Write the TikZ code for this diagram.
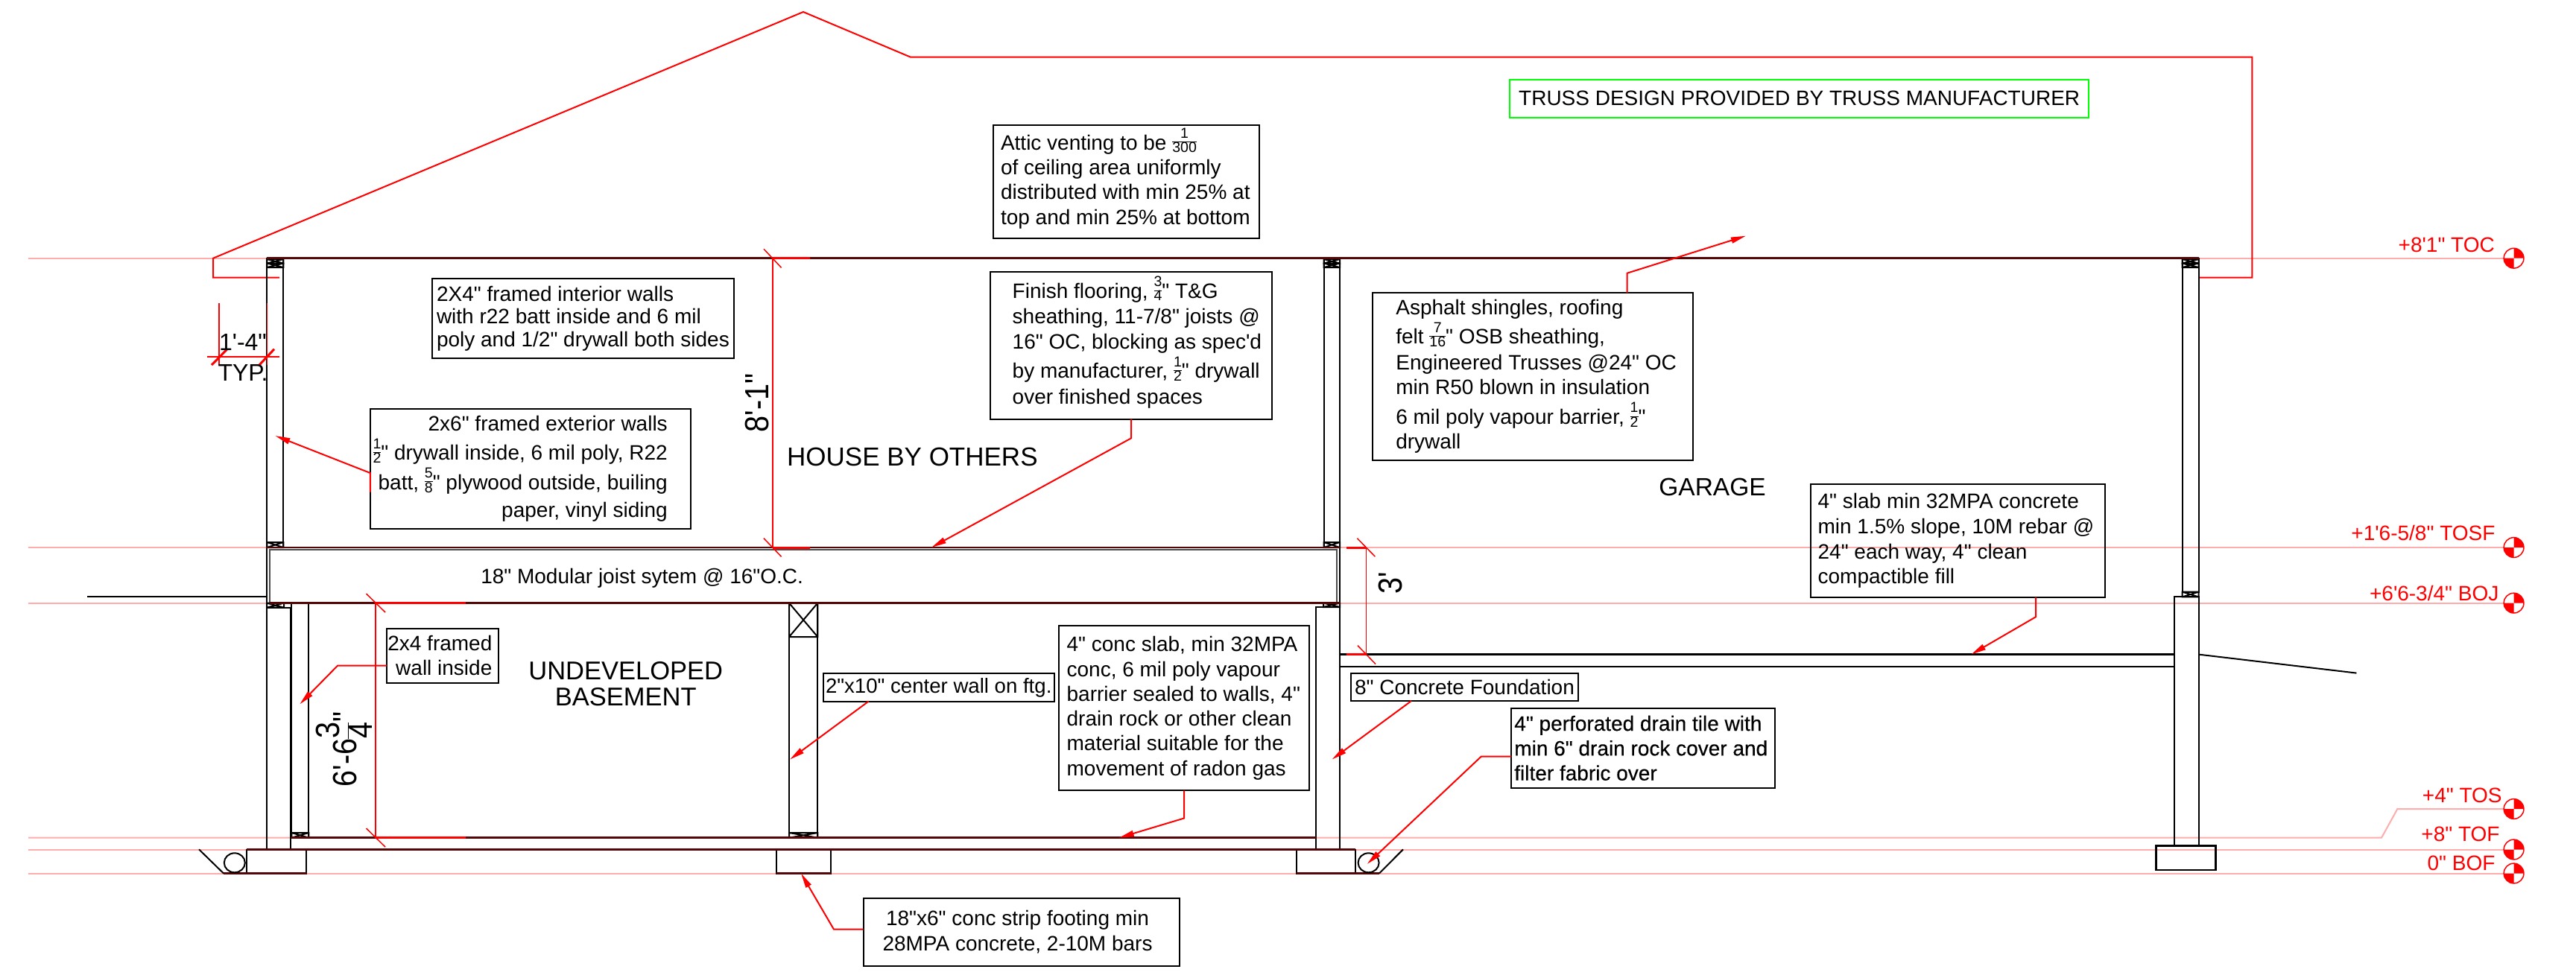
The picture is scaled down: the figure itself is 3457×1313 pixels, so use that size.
\documentclass[tikz,border=0pt]{standalone}
\usepackage{fontspec}
\usetikzlibrary{arrows.meta}
\newfontfamily\ar{Liberation Sans}
\newfontfamily\arb{Liberation Sans}[FakeBold=0.35]
\definecolor{pinkln}{HTML}{FFACAC}
\definecolor{marln}{HTML}{550606}
\definecolor{grn}{HTML}{00FF00}
\newcommand\nf{\ar\fontsize{28}{33.3}\selectfont}
\newcommand\fr[2]{\smash{\begingroup\fontsize{19.5}{16.5}\selectfont\arrayrulewidth=1pt\tabcolsep=0pt\raisebox{5pt}{\begin{tabular}[c]{@{}c@{}}#1\\\hline #2\end{tabular}}\endgroup}}
\newcommand\dfr[2]{\smash{\begingroup\fontsize{45}{39}\selectfont\arrayrulewidth=1.5pt\tabcolsep=0pt\raisebox{5pt}{\begin{tabular}[c]{@{}c@{}}#1\\\hline #2\end{tabular}}\endgroup}}
\newcommand\ls[1]{\leftskip=#1pt\relax}
\newcommand\rs[1]{\leftskip=0pt plus 1fil\relax\rightskip=#1pt\relax}
\newcommand\xblk[4]{\draw[wall] (#1,#2) rectangle (#3,#4) (#1,#2) -- (#3,#4) (#1,#4) -- (#3,#2);}
\newcommand\datum[1]{%
  \draw[red,line width=1.5pt,fill=white] (#1) circle (13.4);
  \fill[red] (#1) -- ++(13.4,0) arc (0:90:13.4 and -13.4) -- cycle;
  \fill[red] (#1) -- ++(-13.4,0) arc (180:270:13.4 and -13.4) -- cycle;}
\tikzset{
  wall/.style={draw=black,line width=2pt},
  lvl/.style={draw=pinkln,line width=2pt},
  floorln/.style={draw=marln,line width=2.6pt},
  rd/.style={draw=red,line width=2pt},
  tick/.style={draw=red,line width=1.5pt},
  ext/.style={draw=red,line width=3pt},
  lead/.style={draw=red,line width=2pt,-{Triangle[length=20pt,width=8pt,fill=red]}},
  nb/.style={draw=black,line width=2pt,inner sep=0pt,outer sep=0pt,anchor=north west,font=\nf,align=flush left},
  nbc/.style={nb,align=flush center},
  lvltxt/.style={text=red,font=\ar\fontsize{28}{30}\selectfont,inner sep=0pt,anchor=base east},
  room/.style={font=\ar\fontsize{35}{38.5}\selectfont,inner sep=0pt,anchor=base,align=center},
  dimtxt/.style={font=\ar\fontsize{45}{45}\selectfont,inner sep=0pt,anchor=base,rotate=90},
  smalltxt/.style={font=\ar\fontsize{32}{34}\selectfont,inner sep=0pt,anchor=base},
}
\begin{document}
\begin{tikzpicture}[x=1pt,y=-1pt]
\useasboundingbox (0,0) rectangle (3457,1313);
\fill[white] (0,0) rectangle (3457,1313);
% level lines
\coordinate (mTOC) at (3373.5,346.7);
\coordinate (mTOSF) at (3373.5,735);
\coordinate (mBOJ) at (3373.5,809.6);
\coordinate (mTOS) at (3373.5,1086);
\coordinate (mTOF) at (3373.5,1140.5);
\coordinate (mBOF) at (3373.5,1172.5);
\draw[lvl] (38,346.7) -- (mTOC);
\draw[lvl] (38,735) -- (mTOSF);
\draw[lvl] (38,809.6) -- (mBOJ);
\draw[lvl] (38,1124.7) -- (3196,1124.7) -- (3217.3,1086) -- (mTOS);
\draw[lvl] (38,1140.5) -- (mTOF);
\draw[lvl] (38,1172.5) -- (mBOF);
\datum{mTOC}\datum{mTOSF}\datum{mBOJ}\datum{mTOS}\datum{mTOF}\datum{mBOF}
\node[lvltxt] (tTOC) at (3348,338.3) {+8'1" TOC};
\node[lvltxt] (tTOSF) at (3348.6,725) {+1'6-5/8" TOSF};
\node[lvltxt] (tBOJ) at (3353.5,806) {+6'6-3/4" BOJ};
\node[lvltxt] (tTOS) at (3357.8,1077.5) {+4" TOS};
\node[lvltxt] (tTOF) at (3354.7,1129) {+8" TOF};
\node[lvltxt] (tBOF) at (3348.6,1168.6) {0" BOF};
% roof
\draw[rd,line join=miter] (374.8,372.7) -- (286,372.7) -- (286,346.7) -- (1078,16) -- (1222,76.7) -- (3022.3,76.7) -- (3022.3,372.7) -- (2950.6,372.7);
% upper walls
\draw[wall] (358.4,346.7) rectangle (380.3,735);
\draw[wall] (1776.5,346.7) rectangle (1798,735);
\draw[wall] (2928.6,346.7) rectangle (2950.5,794.6);
\foreach \a/\b in {358.4/380.3,1776.5/1798,2928.6/2950.5}{
  \xblk{\a}{348}{\b}{353.5}\xblk{\a}{353.5}{\b}{359}}
\xblk{358.4}{728}{380.3}{735}
\xblk{1776.5}{728}{1798}{735}
% joist band
\draw[wall,draw=black!70] (362,737.7) rectangle (1794,809.6);
\draw[wall] (358,735) -- (358,815.7);
\draw[wall] (1798,735) -- (1798,815);
\node[font=\nf,inner sep=0pt,anchor=base] (tjoist) at (861.6,783) {18" Modular joist sytem @ 16"O.C.};
% foundations
\draw[wall] (358,815.7) rectangle (390,1140.5);
\xblk{358}{809.6}{381}{815.7}
\draw[wall] (391.3,809.6) rectangle (414.3,1124.7);
\xblk{391.3}{1118}{414.3}{1124.7}
\draw[wall] (1059,809.6) rectangle (1097.3,1124.7);
\xblk{1059}{809.6}{1097.3}{855}
\xblk{1059}{1118}{1097.3}{1124.7}
\draw[wall] (1766.4,815) rectangle (1798.3,1140.5);
\xblk{1776}{809.6}{1798}{815}
\draw[wall] (2918.2,801.4) rectangle (2950.5,1135.7);
\xblk{2928.6}{794.6}{2950.5}{801.4}
% footings
\draw[wall] (330.7,1140.5) rectangle (411,1172.5);
\draw[wall] (1041.8,1140.5) rectangle (1114.5,1172.5);
\draw[wall] (1739.7,1140.5) rectangle (1819.4,1172.5);
\draw[wall,line width=2.6pt] (2893.2,1135.7) rectangle (2973.7,1167.9);
% floor / ceiling lines
\draw[floorln] (358,346.7) -- (2950.5,346.7);
\draw[floorln] (358,735) -- (1798,735);
\draw[floorln] (362,809.6) -- (1798,809.6);
\draw[floorln] (391,1124.7) -- (1766.4,1124.7);
\draw[floorln] (330.7,1140.5) -- (1819.4,1140.5);
\draw[floorln] (300,1172.5) -- (411,1172.5);
\draw[floorln] (1041.8,1172.5) -- (1114.5,1172.5);
\draw[floorln] (1739.7,1172.5) -- (1851,1172.5);
% slab and grade
\draw[wall,line width=2.6pt] (1798.3,878.6) -- (2918.2,878.6) (1798.3,895) -- (2918.2,895);
\draw[wall] (2950.5,878.6) -- (3162.4,903.6);
\draw[wall] (117,801) -- (358,801);
% drains
\draw[wall] (314.8,1158.3) ellipse (14 and 13);
\draw[wall] (1836.6,1158.3) ellipse (14 and 13);
\draw[wall] (267,1140.3) -- (300,1172.5);
\draw[wall] (1883,1140.3) -- (1851,1172.5);
% rooms
\node[room] (thouse) at (1224.4,625.7) {HOUSE BY OTHERS};
\node[room,font=\ar\fontsize{33.5}{36}\selectfont] (tgarage) at (2298,665) {GARAGE};
\node[room,font=\ar\fontsize{34.5}{34.6}\selectfont] (tbase) at (839.7,947.2) {UNDEVELOPED\\BASEMENT};
% dimensions
\draw[tick] (1037,346.7) -- (1037,735);
\draw[tick] (1025,334.3) -- (1048.5,359.3);
\draw[tick] (1025,722.7) -- (1048.5,747.3);
\draw[ext] (1037,346.7) -- (1087,346.7);
\draw[ext] (1037,735) -- (1087,735);
\node[dimtxt] (d81) at (1031,541) {\scalebox{.88}[1]{8'-1"}};
\draw[tick] (504.2,809.6) -- (504.2,1124.7);
\draw[tick] (491.5,797) -- (517,822);
\draw[tick] (491.5,1112) -- (517,1137);
\draw[ext] (504.2,809.6) -- (625.4,809.6);
\draw[ext] (504.2,1124.7) -- (625.4,1124.7);
\node[dimtxt] (d66) at (478.7,1006) {\scalebox{.88}[1]{6'-6\dfr{3}{4}"}};
\draw[tick] (1833.4,735) -- (1833.4,878.6);
\draw[tick] (1821.4,722.7) -- (1845.4,747.3);
\draw[tick] (1822,866.7) -- (1846,891.5);
\draw[ext] (1807,735) -- (1833.4,735);
\draw[ext] (1806.6,878.6) -- (1833.4,878.6);
\node[dimtxt] (d3) at (1881,783) {\scalebox{.88}[1]{3'}};
% 1'-4 dim
\draw[tick] (294,406.7) -- (294,490);
\draw[tick] (358.4,406.7) -- (358.4,490);
\draw[rd] (277.5,479) -- (374.5,479);
\draw[ext] (284,490) -- (304.5,469.3);
\draw[ext] (348,490) -- (368,468.7);
\node[smalltxt] (t14) at (326,470.7) {1'-4"};
\node[smalltxt] (ttyp) at (326,511.7) {TYP.};
% note boxes
\node[nb,draw=grn,text width=776.7pt,minimum height=51.3pt,align=flush center] (btruss) at (2026.3,106.7) {TRUSS DESIGN PROVIDED BY TRUSS MANUFACTURER};
\node[nb,text width=357pt,minimum height=152.3pt] (battic) at (1333,167.7) {\ls{10}Attic venting to be \fr{1}{300}\\of ceiling area uniformly\\distributed with min 25\% at\\top and min 25\% at bottom\par};
\node[nb,text width=405.3pt,minimum height=106.7pt,font=\ar\fontsize{28}{30.5}\selectfont] (bint) at (580,374) {\ls{6}2X4" framed interior walls\\with r22 batt inside and 6 mil\\poly and 1/2" drywall both sides\par};
\node[nb,text width=430pt,minimum height=161.3pt,align=flush right] (bext) at (496.8,548.7) {\rs{31}2x6" framed exterior walls\\[6pt]\fr{1}{2}" drywall inside, 6 mil poly, R22\\[6pt]batt, \fr{5}{8}" plywood outside, builing\\[4pt]paper, vinyl siding\par};
\node[nb,text width=378pt,minimum height=197.7pt] (bfin) at (1329,365) {\ls{29.7}Finish flooring, \fr{3}{4}" T\&G\\[1.4pt]sheathing, 11-7/8" joists @\\16" OC, blocking as spec'd\\[6.4pt]by manufacturer, \fr{1}{2}" drywall\\[1pt]over finished spaces\par};
\node[nb,text width=430pt,minimum height=225pt] (basp) at (1842.3,393) {\ls{31}Asphalt shingles, roofing\\[6pt]felt \fr{7}{16}" OSB sheathing,\\[1pt]Engineered Trusses @24" OC\\min R50 blown in insulation\\[6.7pt]6 mil poly vapour barrier, \fr{1}{2}"\\drywall\par};
\node[nb,text width=395.8pt,minimum height=152.2pt] (bslab) at (2429.6,649.6) {\ls{10}4" slab min 32MPA concrete\\[1pt]min 1.5\% slope, 10M rebar @\\24" each way, 4" clean\\compactible fill\par};
\node[nb,text width=150.5pt,minimum height=73.4pt,align=flush right] (b2x4) at (518.9,843.6) {\rs{9}2x4 framed\\wall inside\par};
\node[nbc,text width=310.5pt,minimum height=37.1pt,font=\ar\fontsize{27.6}{33.3}\selectfont] (b2x10) at (1104.5,904.4) {2"x10" center wall on ftg.};
\node[nb,text width=336pt,minimum height=221.2pt] (bconc) at (1420.8,840.2) {\ls{10.8}4" conc slab, min 32MPA\\conc, 6 mil poly vapour\\barrier sealed to walls, 4"\\drain rock or other clean\\material suitable for the\\movement of radon gas\par};
\node[nbc,text width=305pt,minimum height=36.6pt] (b8) at (1813,904.4) {8" Concrete Foundation};
\node[nb,text width=353.7pt,minimum height=106.7pt,font=\arb\fontsize{28}{33.3}\selectfont] (bdrain) at (2028.3,951) {\ls{4}4" perforated drain tile with\\min 6" drain rock cover and\\filter fabric over\par};
\node[nbc,text width=424.7pt,minimum height=91.1pt] (bfoot) at (1158.7,1205.6) {\leftskip=0pt plus 1fil\relax\rightskip=11pt plus 1fil\relax 18"x6" conc strip footing min\\28MPA concrete, 2-10M bars\par};
% leaders
\coordinate (extA) at (0,660.7); \coordinate (extB) at (0,635); \coordinate (extE) at (369.4,585);
\draw[lead] (bext.west |- extA) -- (bext.west |- extB) -- (extE);
\coordinate (f1) at (1518,588.3); \coordinate (fe) at (1250,735);
\draw[lead] (bfin.south -| f1) -- (f1) -- (fe);
\coordinate (a1) at (2183.7,366.7); \coordinate (ae) at (2342.9,316.7);
\draw[lead] (basp.north -| a1) -- (a1) -- (ae);
\coordinate (s1) at (2732,828.2); \coordinate (se) at (2645.3,878.6);
\draw[lead] (bslab.south -| s1) -- (s1) -- (se);
\coordinate (w1) at (453.2,893.5); \coordinate (we) at (402.2,945.5);
\draw[lead] (b2x4.west |- w1) -- (w1) -- (we);
\coordinate (t0) at (1165.7,0); \coordinate (te) at (1060,1019.6);
\draw[lead] (b2x10.south -| t0) -- (te);
\coordinate (c1) at (1589,1098.5); \coordinate (ce) at (1501.8,1124.7);
\draw[lead] (bconc.south -| c1) -- (c1) -- (ce);
\coordinate (e0) at (1894,0); \coordinate (ee) at (1787.5,1019.6);
\draw[lead] (b8.south -| e0) -- (ee);
\coordinate (d1) at (1987.8,1015.6); \coordinate (de) at (1834.7,1160);
\draw[lead] (bdrain.west |- d1) -- (d1) -- (de);
\coordinate (g1) at (1119,1247.7); \coordinate (ge) at (1075,1172.5);
\draw[lead] (bfoot.west |- g1) -- (g1) -- (ge);
\end{tikzpicture}
\end{document}
